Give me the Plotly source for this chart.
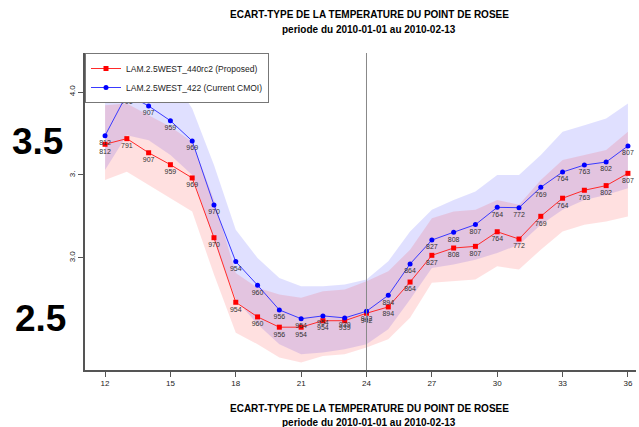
import plotly.graph_objects as go

hours = list(range(12, 37))
counts = [812, 791, 907, 959, 969, 970, 954, 960, 956, 954, 954, 939, 942,
          894, 864, 827, 808, 807, 764, 772, 769, 764, 763, 802, 807]

proposed_name = "LAM.2.5WEST_440rc2 (Proposed)"
current_name = "LAM.2.5WEST_422 (Current CMOI)"

proposed = [3.685, 3.719, 3.634, 3.562, 3.482, 3.122, 2.733, 2.645, 2.583, 2.583,
            2.622, 2.622, 2.667, 2.705, 2.855, 3.016, 3.060, 3.070, 3.158, 3.114,
            3.251, 3.360, 3.408, 3.436, 3.510]
proposed_hi = [3.92, 3.93, 3.86, 3.79, 3.70, 3.35, 2.91, 2.82, 2.78, 2.76, 2.80, 2.81,
               2.86, 2.92, 3.05, 3.24, 3.28, 3.29, 3.35, 3.32, 3.47, 3.59, 3.62, 3.65, 3.76]
proposed_lo = [3.47, 3.52, 3.44, 3.36, 3.28, 2.90, 2.55, 2.48, 2.40, 2.37, 2.41, 2.42,
               2.46, 2.51, 2.64, 2.85, 2.86, 2.87, 2.95, 2.93, 3.05, 3.16, 3.20, 3.22, 3.25]

current = [3.737, 3.986, 3.916, 3.827, 3.705, 3.319, 2.978, 2.836, 2.687, 2.634,
           2.651, 2.639, 2.679, 2.775, 2.964, 3.108, 3.155, 3.201, 3.305, 3.303,
           3.426, 3.518, 3.560, 3.578, 3.675]
current_hi = [3.99, 4.19, 4.18, 4.10, 3.90, 3.56, 3.17, 3.00, 2.88, 2.83, 2.83, 2.84,
              2.87, 2.98, 3.16, 3.29, 3.35, 3.40, 3.50, 3.50, 3.62, 3.76, 3.80, 3.84, 3.93]
current_lo = [3.53, 3.74, 3.71, 3.62, 3.50, 3.11, 2.75, 2.60, 2.48, 2.42, 2.43, 2.45,
              2.48, 2.57, 2.75, 2.94, 2.96, 2.99, 3.03, 3.08, 3.20, 3.29, 3.35, 3.38, 3.42]

x_ticks = list(range(12, 37, 3))
y_tickvals = [3.0, 3.5, 4.0]
y_ticktext = ["3.0", "3.", "4.0"]

title1 = "ECART-TYPE DE LA TEMPERATURE DU POINT DE ROSEE"
title2 = "periode du 2010-01-01 au 2010-02-13"
side_labels = ["3.5", "2.5"]

FONT = "Liberation Sans, Arial, sans-serif"

fig = go.Figure()

# bands
fig.add_trace(go.Scatter(x=hours + hours[::-1], y=current_hi + current_lo[::-1],
                         fill="toself", fillcolor="rgba(0,0,255,0.12)",
                         line=dict(width=0), mode="lines", showlegend=False,
                         hoverinfo="skip"))
fig.add_trace(go.Scatter(x=hours + hours[::-1], y=proposed_hi + proposed_lo[::-1],
                         fill="toself", fillcolor="rgba(255,0,0,0.12)",
                         line=dict(width=0), mode="lines", showlegend=False,
                         hoverinfo="skip"))

text_font = dict(family=FONT, size=7, color="#333333")
fig.add_trace(go.Scatter(x=hours, y=proposed, name=proposed_name,
                         mode="lines+markers+text", text=[str(c) for c in counts],
                         textposition="bottom center", textfont=text_font,
                         line=dict(color="#ff2a2a", width=1),
                         marker=dict(symbol="square", size=5, color="#ff0000")))
fig.add_trace(go.Scatter(x=hours, y=current, name=current_name,
                         mode="lines+markers+text", text=[str(c) for c in counts],
                         textposition="bottom center", textfont=text_font,
                         line=dict(color="#3a3aff", width=1),
                         marker=dict(symbol="circle", size=5, color="#0000ff")))

fig.add_shape(type="line", xref="x", yref="paper", x0=24, x1=24, y0=0, y1=1,
              line=dict(color="#888888", width=1))

ann = []
def txt(t, x, y, size, bold=True):
    ann.append(dict(text=f"<b>{t}</b>" if bold else t, x=x, y=y, xref="paper",
                    yref="paper", showarrow=False, xanchor="center",
                    yanchor="middle", font=dict(family=FONT, size=size, color="#000")))

cx = (369 - 85) / 551
txt(title1, cx, (370 - 14) / 317, 10)
txt(title2, cx, (370 - 29) / 317, 10)
txt(title1, cx, (370 - 408) / 317, 10)
txt(title2, cx, (370 - 422) / 317, 10)
txt(side_labels[0], (37 - 85) / 551, (370 - 141) / 317, 37)
txt(side_labels[1], (40 - 85) / 551, (370 - 318) / 317, 37)

fig.update_layout(
    width=639, height=427,
    margin=dict(l=85, r=3, t=53, b=57),
    paper_bgcolor="white", plot_bgcolor="white",
    font=dict(family=FONT, size=8, color="#222"),
    annotations=ann,
    showlegend=True,
    legend=dict(x=0, y=1, xanchor="left", yanchor="top", bgcolor="white",
                bordercolor="#777", borderwidth=1, font=dict(size=8.5, color="#222"),
                tracegroupgap=0, itemwidth=30),
    xaxis=dict(range=[11.08, 36.37], tickvals=x_ticks, ticks="outside", ticklen=5,
               tickcolor="#555", showgrid=False, zeroline=False, showline=True,
               linecolor="#555", linewidth=1.5, tickfont=dict(size=8)),
    yaxis=dict(range=[2.325, 4.235], tickvals=y_tickvals, ticktext=y_ticktext,
               tickangle=-90, ticks="outside", ticklen=5, tickcolor="#555",
               showgrid=False, zeroline=False, showline=True, linecolor="#555",
               linewidth=1.5, tickfont=dict(size=8)),
)

fig.write_html("out.html")
